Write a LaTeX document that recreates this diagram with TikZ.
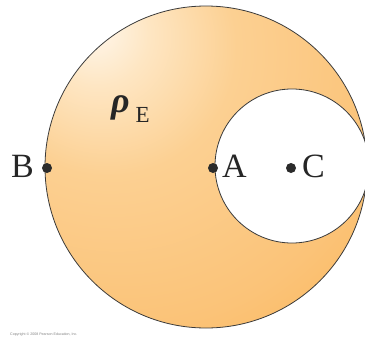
\documentclass[tikz,border=0pt]{standalone}
\usepackage{fontspec}
\setmainfont{Liberation Serif}
\newfontfamily\copyfont{Liberation Sans}
\definecolor{hl}{HTML}{FFF8EF}
\definecolor{ca}{HTML}{FEE6C3}
\definecolor{cb}{HTML}{FCD092}
\definecolor{cc}{HTML}{FBC378}
\definecolor{cd}{HTML}{F8AF48}
\definecolor{ce}{HTML}{FAC070}
\definecolor{linegray}{HTML}{3A3A3A}
\definecolor{dotgray}{HTML}{2B2B2B}
\pgfdeclareradialshading{ballshade}{\pgfpoint{-18bp}{22bp}}{color(0bp)=(hl); color(8bp)=(ca); color(20bp)=(cb); color(40bp)=(cc); color(62bp)=(cd); color(80bp)=(ce); color(130bp)=(ce)}
\begin{document}
\begin{tikzpicture}[x=1pt,y=-1pt,
  dot/.style={circle,fill=dotgray,inner sep=0pt,minimum size=10pt},
  lbl/.style={inner sep=0pt,font=\fontsize{34}{34}\selectfont,text=black!85},
  outline/.style={draw=linegray,line width=0.8pt}]
\useasboundingbox (0,0) rectangle (365,338);
\clip (0,0) rectangle (365,338);
\shade[shading=ballshade, outline] (206,167) circle (161pt);
\fill[white] (292,166) circle (77pt);
\draw[outline] (292,166) circle (77pt);
\node[dot] (dB) at (47,168) {};
\node[dot] (dA) at (213,168) {};
\node[dot] (dC) at (291,168) {};
\node[lbl,anchor=base east] (B) at (34,177.5) {B};
\node[lbl,anchor=base west] (A) at (222,177.5) {A};
\node[lbl,anchor=base west] (C) at (302,177.5) {C};
\node[lbl,anchor=base west,font=\fontsize{36}{36}\selectfont\bfseries\itshape] (rho) at (111,112.5) {ρ};
\node[inner sep=0pt,anchor=base west,font=\fontsize{23}{23}\selectfont,text=black!85] (E) at (135.5,122) {E};
\node[inner sep=0pt,anchor=base west,font=\copyfont\fontsize{3.6}{4}\selectfont,text=gray] (copy) at (10,335) {Copyright © 2008 Pearson Education, Inc.};
\end{tikzpicture}
\end{document}
